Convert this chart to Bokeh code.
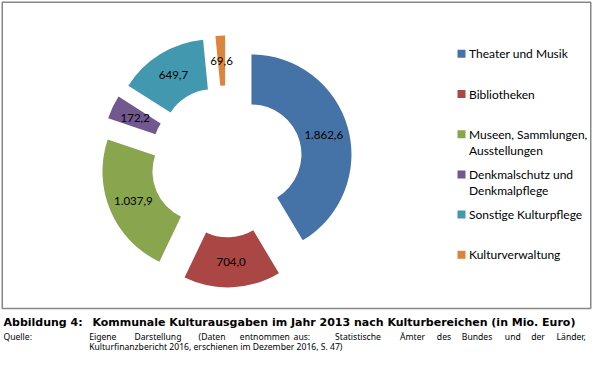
import math
from bokeh.plotting import figure
from bokeh.models import Range1d, ColumnDataSource
from bokeh.core.properties import value
from bokeh.embed import file_html
from bokeh.resources import INLINE

# ---------------- data ----------------
categories = ["Theater und Musik", "Bibliotheken", "Museen, Sammlungen, Ausstellungen",
              "Denkmalschutz und Denkmalpflege", "Sonstige Kulturpflege", "Kulturverwaltung"]
values = [1862.6, 704.0, 1037.9, 172.2, 649.7, 69.6]
value_labels = ["1.862,6", "704,0", "1.037,9", "172,2", "649,7", "69,6"]
colors = ["#4572A7", "#AA4643", "#89A54E", "#71588F", "#4198AF", "#DB843D"]
legend_lines = [["Theater und Musik"], ["Bibliotheken"], ["Museen, Sammlungen,", "Ausstellungen"],
                ["Denkmalschutz und", "Denkmalpflege"], ["Sonstige Kulturpflege"], ["Kulturverwaltung"]]
caption_label = "Abbildung 4:"
caption_title = "Kommunale Kulturausgaben im Jahr 2013 nach Kulturbereichen (in Mio. Euro)"
source_label = "Quelle:"
source_words = ["Eigene", "Darstellung", "(Daten", "entnommen", "aus:", "Statistische",
                "Ämter", "des", "Bundes", "und", "der", "Länder,"]
source_line2 = "Kulturfinanzbericht 2016, erschienen im Dezember 2016, S. 47)"

# ---------------- layout (pixel positions) ----------------
word_x = [90.7, 137, 202.7, 245, 300, 342.5, 409, 446.7, 472.3, 516.3, 543.3, 569.3]
W, H = 592, 353


def Y(y):  # pixel y (down) -> data y (up)
    return H - y


def CX(x):  # caption horizontal squeeze to fit canvas
    return 3 + (x - 3) * 0.9767


p = figure(width=W, height=H, x_range=Range1d(0, W), y_range=Range1d(0, H),
           output_backend="svg", toolbar_location=None, min_border=0,
           x_axis_type=None, y_axis_type=None)
p.outline_line_color = None
p.background_fill_color = "white"
p.border_fill_color = "white"

# chart border
p.quad(left=[1.75], right=[590.25], top=[Y(1.75)], bottom=[Y(308)],
       fill_color=None, line_color="#878787", line_width=1.5)

# ---------------- donut ----------------
CXp, CYp = 225.9, Y(160.9)
R_OUT, R_IN, EXPLODE, R_LAB = 100, 50, 26, 75
total = sum(values)
cx, cy, st, en, lx, ly = [], [], [], [], [], []
acc = 0.0
for v in values:
    t1 = acc / total * 360.0
    acc += v
    t2 = acc / total * 360.0
    tm = math.radians((t1 + t2) / 2)
    ox, oy = CXp + EXPLODE * math.sin(tm), CYp + EXPLODE * math.cos(tm)
    cx.append(ox); cy.append(oy)
    st.append(math.radians(90 - t2)); en.append(math.radians(90 - t1))
    lx.append(ox + R_LAB * math.sin(tm)); ly.append(oy + R_LAB * math.cos(tm))

src = ColumnDataSource(dict(x=cx, y=cy, start=st, end=en, color=colors,
                            lx=lx, ly=ly, label=value_labels, cat=categories, val=values))
p.annular_wedge(x="x", y="y", inner_radius=R_IN, outer_radius=R_OUT,
                start_angle="start", end_angle="end", fill_color="color",
                line_color=None, source=src)
p.text(x="lx", y="ly", text="label", source=src, text_align="center",
       text_baseline="middle", text_font=value("Lato"), text_font_size="11.5px",
       text_color="#000000")

# ---------------- legend ----------------
leg_y0, leg_step, line_step = 53.3, 40.2, 16
sq_x, txt_x = 461, 468.5
sx, sy, sc, tx, ty, tt = [], [], [], [], [], []
for i, lines in enumerate(legend_lines):
    yy = leg_y0 + i * leg_step
    sx.append(sq_x); sy.append(Y(yy)); sc.append(colors[i])
    for j, ln in enumerate(lines):
        tx.append(txt_x); ty.append(Y(yy + j * line_step)); tt.append(ln)
p.rect(x=sx, y=sy, width=8, height=8, fill_color=sc, line_color=None)
p.text(x=tx, y=ty, text=tt, text_align="left", text_baseline="middle",
       text_font=value("Lato"), text_font_size="12px", text_color="#000000")

# ---------------- caption ----------------
p.text(x=[CX(3), CX(94)], y=[Y(322), Y(322)], text=[caption_label, caption_title],
       text_align="left", text_baseline="alphabetic", text_font=value("DejaVu Sans"),
       text_font_style="bold", text_font_size="11px", text_color="#000000")
p.text(x=[CX(3)] + [CX(x) for x in word_x], y=[Y(336.5)] * (1 + len(source_words)),
       text=[source_label] + source_words, text_align="left", text_baseline="alphabetic",
       text_font=value("Noto Sans"), text_font_size="8.6px", text_color="#000000")
p.text(x=[CX(90.7)], y=[Y(346.5)], text=[source_line2], text_align="left",
       text_baseline="alphabetic", text_font=value("Noto Sans"),
       text_font_size="8.6px", text_color="#000000")

open("out.html", "w").write(file_html(p, INLINE))
